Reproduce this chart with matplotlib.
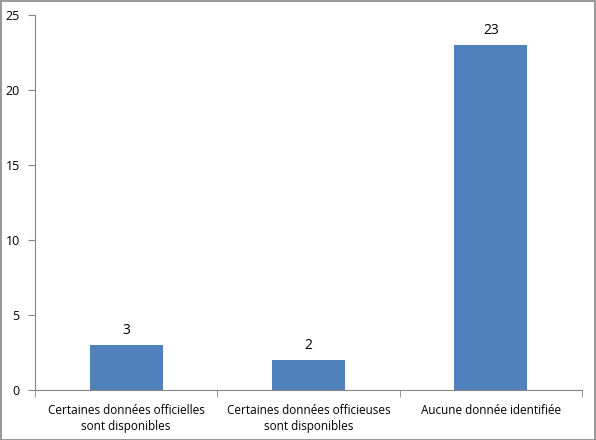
import matplotlib
matplotlib.use("Agg")
import matplotlib.pyplot as plt
from matplotlib.patches import Rectangle

categories = ["Certaines données officielles\nsont disponibles",
              "Certaines données officieuses\nsont disponibles",
              "Aucune donnée identifiée"]
values = [3, 2, 23]
yticks = [0, 5, 10, 15, 20, 25]

plt.rcParams['font.family'] = ['Open Sans', 'DejaVu Sans']

fig = plt.figure(figsize=(5.96, 4.40), dpi=100)
ax = fig.add_axes([35/596, 50/440, (582-35)/596, (390-15)/440])

x = list(range(len(categories)))
bars = ax.bar(x, values, width=0.4, color="#4F81BD", zorder=2)
for xi, v in zip(x, values):
    ax.text(xi, v + 0.45, str(v), ha="center", va="bottom", fontsize=10, color="black")

ax.set_xlim(-0.5, 2.5)
ax.set_ylim(0, 25)
ax.set_yticks(yticks)
ax.set_yticklabels([str(t) for t in yticks], fontsize=9)
ax.set_xticks(x)
ax.set_xticklabels(categories, fontsize=8.5, linespacing=1.3)
ax.set_xticks([-0.5, 0.5, 1.5, 2.5], minor=True)
ax.tick_params(axis="x", which="major", length=0, pad=10)
ax.tick_params(axis="x", which="minor", length=5, color="#868686", direction="out")
ax.tick_params(axis="y", length=5, color="#868686", direction="out", pad=6)
for s in ["top", "right"]:
    ax.spines[s].set_visible(False)
for s in ["left", "bottom"]:
    ax.spines[s].set_color("#868686")

fig.patches.append(Rectangle((0.5/596, 0.5/440), 1 - 1.5/596, 1 - 1.5/440,
                             transform=fig.transFigure, fill=False,
                             edgecolor="#868686", linewidth=1.2))
fig.savefig("out.png", dpi=100)
